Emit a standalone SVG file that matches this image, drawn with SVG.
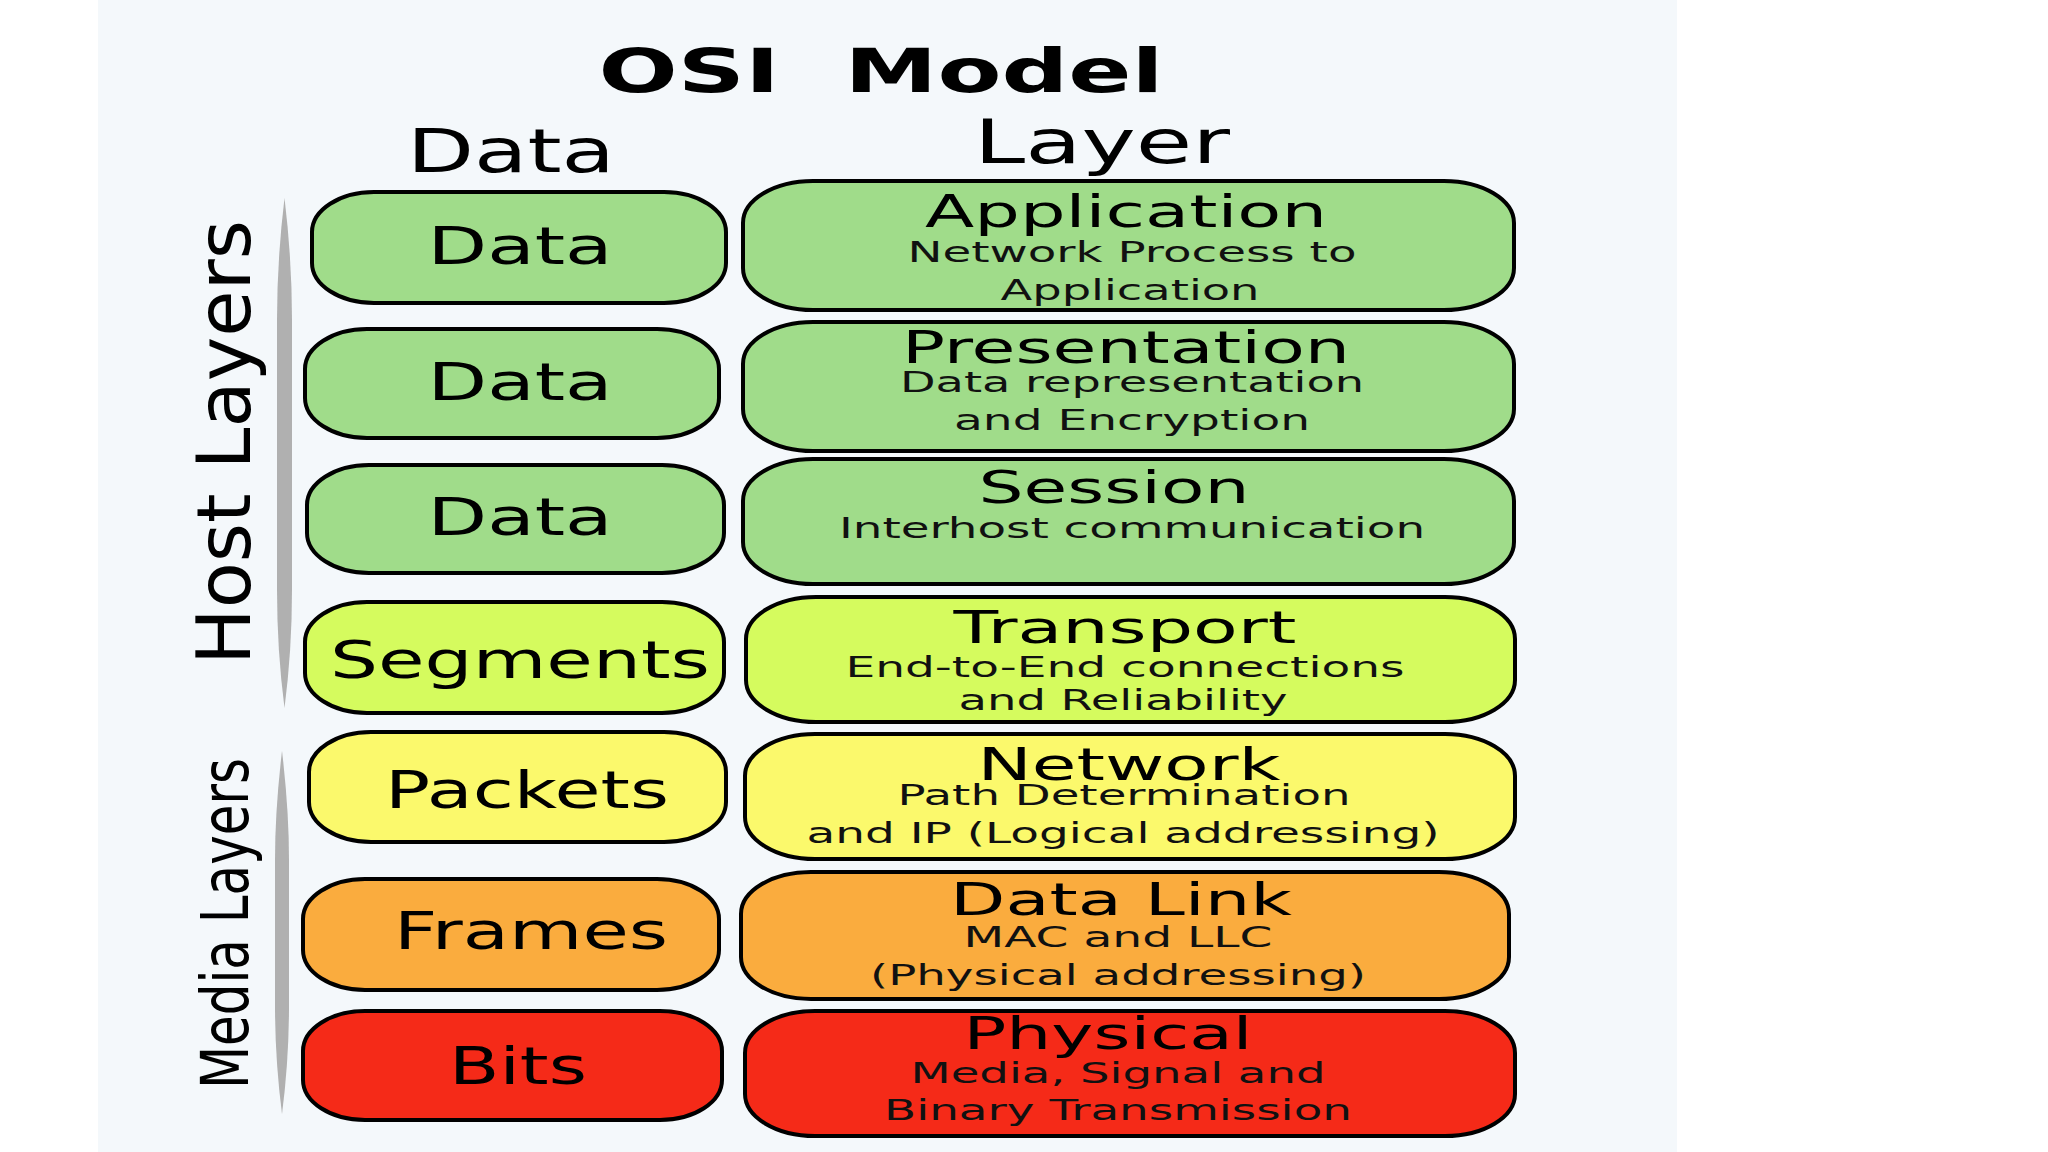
<svg xmlns="http://www.w3.org/2000/svg" width="2048" height="1152" viewBox="0 0 2048 1152">
<style>
text{font-family:"DejaVu Sans","Liberation Sans",sans-serif;fill:#000}
.title{font-size:60px;font-weight:bold}
.hdr{font-size:61px}
.lbl{font-size:52px}
.ttl{font-size:44px}
.sub{font-size:28px;fill:#111}
.box{stroke:#000;stroke-width:4}
.g{fill:#a0dc8a}.yg{fill:#d5fb5e}.y{fill:#fbf96c}.o{fill:#faac3e}.r{fill:#f52a18}
.bar{fill:#b0b0b0}
</style>
<rect x="0" y="0" width="2048" height="1152" fill="#ffffff"/>
<rect x="98" y="0" width="1579" height="1152" fill="#f4f8fb"/>

<g id="title">
<text class="title" x="881" y="92" text-anchor="middle" textLength="565" lengthAdjust="spacingAndGlyphs" xml:space="preserve">OSI  Model</text>
</g>
<g id="header-data"><text class="hdr" x="511" y="172" text-anchor="middle" textLength="208" lengthAdjust="spacingAndGlyphs">Data</text></g>
<g id="header-layer"><text class="hdr" x="1102" y="163" text-anchor="middle" textLength="256" lengthAdjust="spacingAndGlyphs">Layer</text></g>

<g id="brackets">
<path class="bar" d="M284.5,198 Q292,260 292,320 L292,590 Q292,650 284.5,708 Q277,650 277,590 L277,320 Q277,260 284.5,198 Z"/>
<path class="bar" d="M282,751 Q289,810 289,860 L289,1005 Q289,1060 282,1114 Q275,1060 275,1005 L275,860 Q275,810 282,751 Z"/>
</g>
<g id="host-layers"><text transform="translate(250,442.5) rotate(-90)" x="0" y="0" text-anchor="middle" font-size="75" textLength="445" lengthAdjust="spacingAndGlyphs">Host Layers</text></g>
<g id="media-layers"><text transform="translate(248,923.5) scale(1.32,1) rotate(-90)" x="0" y="0" text-anchor="middle" font-size="50" textLength="331" lengthAdjust="spacingAndGlyphs">Media Layers</text></g>

<g id="data-1"><rect class="box g" x="312" y="192" width="414" height="111" rx="62" ry="40"/>
<text class="lbl" x="520" y="264" text-anchor="middle" textLength="185" lengthAdjust="spacingAndGlyphs">Data</text></g>
<g id="data-2"><rect class="box g" x="305" y="329" width="414" height="109" rx="62" ry="40"/>
<text class="lbl" x="520" y="400" text-anchor="middle" textLength="185" lengthAdjust="spacingAndGlyphs">Data</text></g>
<g id="data-3"><rect class="box g" x="307" y="465" width="417" height="108" rx="62" ry="40"/>
<text class="lbl" x="520" y="535" text-anchor="middle" textLength="185" lengthAdjust="spacingAndGlyphs">Data</text></g>
<g id="segments"><rect class="box yg" x="305" y="602" width="419" height="111" rx="62" ry="40"/>
<text class="lbl" x="520" y="678" text-anchor="middle" textLength="380" lengthAdjust="spacingAndGlyphs">Segments</text></g>
<g id="packets"><rect class="box y" x="309" y="732" width="417" height="110" rx="62" ry="40"/>
<text class="lbl" x="527" y="808" text-anchor="middle" textLength="284" lengthAdjust="spacingAndGlyphs">Packets</text></g>
<g id="frames"><rect class="box o" x="303" y="879" width="416" height="111" rx="62" ry="40"/>
<text class="lbl" x="531" y="949" text-anchor="middle" textLength="274" lengthAdjust="spacingAndGlyphs">Frames</text></g>
<g id="bits"><rect class="box r" x="303" y="1011" width="419" height="109" rx="62" ry="40"/>
<text class="lbl" x="518" y="1084" text-anchor="middle" textLength="138" lengthAdjust="spacingAndGlyphs">Bits</text></g>

<g id="application"><rect class="box g" x="743" y="181" width="771" height="129" rx="70" ry="42"/>
<text class="ttl" x="1126" y="227" text-anchor="middle" textLength="402" lengthAdjust="spacingAndGlyphs">Application</text>
<text class="sub" x="1132" y="262" text-anchor="middle" textLength="449" lengthAdjust="spacingAndGlyphs">Network Process to</text>
<text class="sub" x="1130" y="300" text-anchor="middle" textLength="259" lengthAdjust="spacingAndGlyphs">Application</text></g>
<g id="presentation"><rect class="box g" x="743" y="322" width="771" height="129" rx="70" ry="42"/>
<text class="ttl" x="1126" y="363" text-anchor="middle" textLength="448" lengthAdjust="spacingAndGlyphs">Presentation</text>
<text class="sub" x="1132" y="392" text-anchor="middle" textLength="464" lengthAdjust="spacingAndGlyphs">Data representation</text>
<text class="sub" x="1132" y="430" text-anchor="middle" textLength="356" lengthAdjust="spacingAndGlyphs">and Encryption</text></g>
<g id="session"><rect class="box g" x="743" y="459" width="771" height="125" rx="70" ry="42"/>
<text class="ttl" x="1114" y="503" text-anchor="middle" textLength="271" lengthAdjust="spacingAndGlyphs">Session</text>
<text class="sub" x="1132" y="538" text-anchor="middle" textLength="586" lengthAdjust="spacingAndGlyphs">Interhost communication</text></g>
<g id="transport"><rect class="box yg" x="746" y="597" width="769" height="125" rx="70" ry="42"/>
<text class="ttl" x="1125" y="643" text-anchor="middle" textLength="343" lengthAdjust="spacingAndGlyphs">Transport</text>
<text class="sub" x="1125" y="677" text-anchor="middle" textLength="559" lengthAdjust="spacingAndGlyphs">End-to-End connections</text>
<text class="sub" x="1123" y="710" text-anchor="middle" textLength="329" lengthAdjust="spacingAndGlyphs">and Reliability</text></g>
<g id="network"><rect class="box y" x="745" y="734" width="770" height="125" rx="70" ry="42"/>
<text class="ttl" x="1129" y="780" text-anchor="middle" textLength="303" lengthAdjust="spacingAndGlyphs">Network</text>
<text class="sub" x="1124" y="805" text-anchor="middle" textLength="453" lengthAdjust="spacingAndGlyphs">Path Determination</text>
<text class="sub" x="1123" y="843" text-anchor="middle" textLength="633" lengthAdjust="spacingAndGlyphs">and IP (Logical addressing)</text></g>
<g id="data-link"><rect class="box o" x="741" y="872" width="768" height="127" rx="70" ry="42"/>
<text class="ttl" x="1121" y="915" text-anchor="middle" textLength="342" lengthAdjust="spacingAndGlyphs">Data Link</text>
<text class="sub" x="1118" y="947" text-anchor="middle" textLength="309" lengthAdjust="spacingAndGlyphs">MAC and LLC</text>
<text class="sub" x="1118" y="985" text-anchor="middle" textLength="496" lengthAdjust="spacingAndGlyphs">(Physical addressing)</text></g>
<g id="physical"><rect class="box r" x="745" y="1011" width="770" height="125" rx="70" ry="42"/>
<text class="ttl" x="1108" y="1049" text-anchor="middle" textLength="289" lengthAdjust="spacingAndGlyphs">Physical</text>
<text class="sub" x="1118" y="1083" text-anchor="middle" textLength="415" lengthAdjust="spacingAndGlyphs">Media, Signal and</text>
<text class="sub" x="1118" y="1120" text-anchor="middle" textLength="468" lengthAdjust="spacingAndGlyphs">Binary Transmission</text></g>
</svg>
